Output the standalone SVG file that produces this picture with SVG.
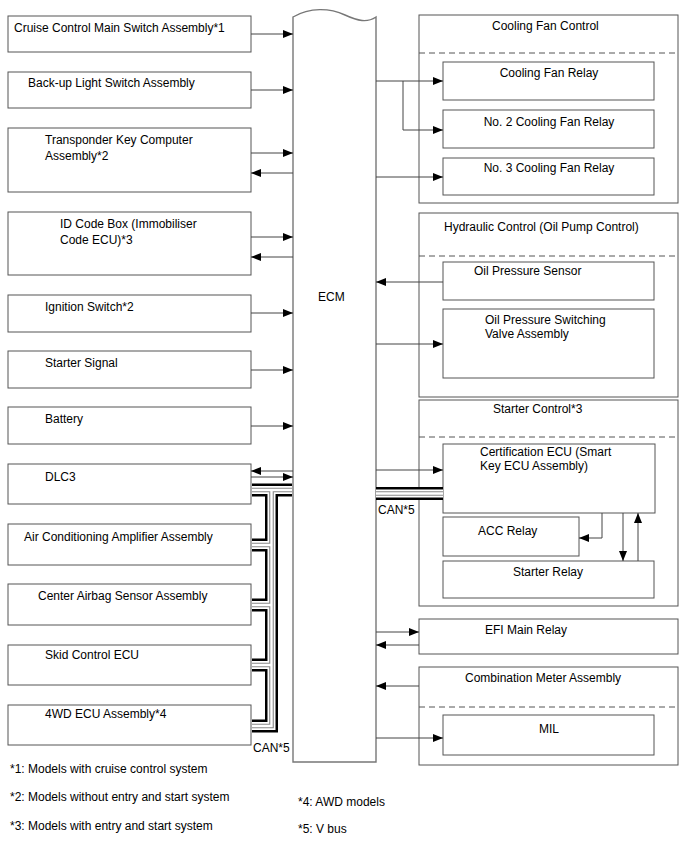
<svg xmlns="http://www.w3.org/2000/svg" xmlns:xlink="http://www.w3.org/1999/xlink" width="688" height="852" viewBox="0 0 688 852">
<style>
.box{fill:#fff;stroke:#555;stroke-width:1}
.t{font-family:"Liberation Sans",Arial,sans-serif;font-size:12px;fill:#000}
.m{text-anchor:middle}
.ln{fill:none;stroke:#444;stroke-width:1}
.dash{fill:none;stroke:#555;stroke-width:1;stroke-dasharray:6,4}
.ecm{fill:#fff;stroke:#777;stroke-width:1.4}
.b1{fill:none;stroke:#000;stroke-width:13;stroke-linejoin:miter}
.b2{fill:none;stroke:#fff;stroke-width:8;stroke-linejoin:miter}
.b3{fill:none;stroke:#888;stroke-width:4.6;stroke-linejoin:miter}
.b4{fill:none;stroke:#fff;stroke-width:2.4;stroke-linejoin:miter}
</style>
<defs>
<marker id="ar" markerUnits="userSpaceOnUse" markerWidth="10" markerHeight="8" refX="10" refY="4" orient="auto">
<path d="M0,0 L10,4 L0,8 z" fill="#000"/>
</marker>
<path id="busL" d="M252,490 H292 M271.5,490 V726 H252 M271.5,545 H252 M271.5,605 H252 M271.5,665 H252"/>
<path id="busR" d="M376,493.5 H443"/>
</defs>
<rect width="688" height="852" fill="#fff"/>

<g id="ecm">
<path class="ecm" d="M293,17 C310,7 330,8 345,15 C358,21 367,23 376,17 V762 H293 Z"/>
<text class="t" x="318" y="301">ECM</text>
</g>

<g id="n1"><rect class="box" x="8" y="16" width="243" height="36"/><text class="t" x="14" y="32">Cruise Control Main Switch Assembly*1</text></g>
<g id="n2"><rect class="box" x="8" y="72" width="243" height="36"/><text class="t" x="28" y="87">Back-up Light Switch Assembly</text></g>
<g id="n3"><rect class="box" x="8" y="128" width="243" height="64"/><text class="t" x="45" y="144">Transponder Key Computer</text><text class="t" x="45" y="160">Assembly*2</text></g>
<g id="n4"><rect class="box" x="8" y="212" width="243" height="63"/><text class="t" x="60" y="228">ID Code Box (Immobiliser</text><text class="t" x="60" y="244">Code ECU)*3</text></g>
<g id="n5"><rect class="box" x="8" y="295" width="243" height="37"/><text class="t" x="45" y="311">Ignition Switch*2</text></g>
<g id="n6"><rect class="box" x="8" y="351" width="243" height="37"/><text class="t" x="45" y="367">Starter Signal</text></g>
<g id="n7"><rect class="box" x="8" y="407" width="243" height="37"/><text class="t" x="45" y="423">Battery</text></g>
<g id="n8"><rect class="box" x="8" y="464" width="243" height="40"/><text class="t" x="45" y="481">DLC3</text></g>
<g id="n9"><rect class="box" x="8" y="524" width="243" height="41"/><text class="t" x="24" y="541">Air Conditioning Amplifier Assembly</text></g>
<g id="n10"><rect class="box" x="8" y="584" width="243" height="41"/><text class="t" x="38" y="600">Center Airbag Sensor Assembly</text></g>
<g id="n11"><rect class="box" x="8" y="645" width="243" height="40"/><text class="t" x="45" y="659">Skid Control ECU</text></g>
<g id="n12"><rect class="box" x="8" y="705" width="243" height="40"/><text class="t" x="45" y="718">4WD ECU Assembly*4</text></g>

<g id="coolingFanControl">
<rect class="box" x="419" y="15" width="259" height="188"/>
<line class="dash" x1="419" y1="53" x2="678" y2="53"/>
<text class="t" x="492" y="30">Cooling Fan Control</text>
</g>
<g id="coolingFanRelay"><rect class="box" x="443" y="62" width="211" height="38"/><text class="t m" x="549" y="77">Cooling Fan Relay</text></g>
<g id="coolingFanRelay2"><rect class="box" x="443" y="110" width="211" height="38"/><text class="t m" x="549" y="126">No. 2 Cooling Fan Relay</text></g>
<g id="coolingFanRelay3"><rect class="box" x="443" y="158" width="211" height="37"/><text class="t m" x="549" y="172">No. 3 Cooling Fan Relay</text></g>

<g id="hydraulicControl">
<rect class="box" x="419" y="213" width="259" height="184"/>
<line class="dash" x1="419" y1="256" x2="678" y2="256"/>
<text class="t" x="444" y="231">Hydraulic Control (Oil Pump Control)</text>
</g>
<g id="oilPressureSensor"><rect class="box" x="443" y="262" width="211" height="38"/><text class="t" x="474" y="275">Oil Pressure Sensor</text></g>
<g id="oilPressureValve"><rect class="box" x="443" y="309" width="211" height="69"/><text class="t" x="485" y="324">Oil Pressure Switching</text><text class="t" x="485" y="338">Valve Assembly</text></g>

<g id="starterControl">
<rect class="box" x="419" y="400" width="259" height="206"/>
<line class="dash" x1="419" y1="437" x2="678" y2="437"/>
<text class="t" x="493" y="413">Starter Control*3</text>
</g>
<g id="certificationEcu"><rect class="box" x="443" y="444" width="212" height="69"/><text class="t" x="480" y="456">Certification ECU (Smart</text><text class="t" x="480" y="470">Key ECU Assembly)</text></g>
<g id="accRelay"><rect class="box" x="443" y="517" width="136" height="39"/><text class="t" x="478" y="535">ACC Relay</text></g>
<g id="starterRelay"><rect class="box" x="443" y="561" width="211" height="37"/><text class="t m" x="548" y="576">Starter Relay</text></g>

<g id="efiMainRelay"><rect class="box" x="419" y="619" width="259" height="35"/><text class="t" x="485" y="634">EFI Main Relay</text></g>

<g id="combinationMeter">
<rect class="box" x="419" y="667" width="259" height="98"/>
<line class="dash" x1="419" y1="707" x2="678" y2="707"/>
<text class="t" x="465" y="682">Combination Meter Assembly</text>
</g>
<g id="mil"><rect class="box" x="443" y="715" width="211" height="40"/><text class="t m" x="549" y="733">MIL</text></g>

<g id="connectors">
<path class="ln" marker-end="url(#ar)" d="M251,34 H293"/>
<path class="ln" marker-end="url(#ar)" d="M251,90 H293"/>
<path class="ln" marker-end="url(#ar)" d="M251,153 H293"/>
<path class="ln" marker-end="url(#ar)" d="M293,173 H251"/>
<path class="ln" marker-end="url(#ar)" d="M251,237 H293"/>
<path class="ln" marker-end="url(#ar)" d="M293,257 H251"/>
<path class="ln" marker-end="url(#ar)" d="M251,313 H293"/>
<path class="ln" marker-end="url(#ar)" d="M251,370 H293"/>
<path class="ln" marker-end="url(#ar)" d="M251,426 H293"/>
<path class="ln" marker-end="url(#ar)" d="M293,471 H251"/>
<path class="ln" marker-end="url(#ar)" d="M251,477 H293"/>

<path class="ln" marker-end="url(#ar)" d="M376,81 H443"/>
<path class="ln" marker-end="url(#ar)" d="M403,81 V130 H443"/>
<path class="ln" marker-end="url(#ar)" d="M376,177 H443"/>
<path class="ln" marker-end="url(#ar)" d="M443,282 H376"/>
<path class="ln" marker-end="url(#ar)" d="M376,344 H443"/>
<path class="ln" marker-end="url(#ar)" d="M376,470 H443"/>
<path class="ln" marker-end="url(#ar)" d="M602,513 V538 H579"/>
<path class="ln" marker-end="url(#ar)" d="M623,513 V561"/>
<path class="ln" marker-end="url(#ar)" d="M638,561 V513"/>
<path class="ln" marker-end="url(#ar)" d="M376,632 H419"/>
<path class="ln" marker-end="url(#ar)" d="M419,645 H376"/>
<path class="ln" marker-end="url(#ar)" d="M419,686 H376"/>
<path class="ln" marker-end="url(#ar)" d="M376,738 H443"/>

<use xlink:href="#busL" class="b1"/>
<use xlink:href="#busL" class="b2"/>
<use xlink:href="#busL" class="b3"/>
<use xlink:href="#busL" class="b4"/>
<use xlink:href="#busR" class="b1"/>
<use xlink:href="#busR" class="b2"/>
<use xlink:href="#busR" class="b3"/>
<use xlink:href="#busR" class="b4"/>
<text class="t" x="378" y="514">CAN*5</text>
<text class="t" x="253" y="752">CAN*5</text>
</g>

<g id="notes">
<text class="t" x="10" y="773">*1: Models with cruise control system</text>
<text class="t" x="10" y="801">*2: Models without entry and start system</text>
<text class="t" x="10" y="830">*3: Models with entry and start system</text>
<text class="t" x="298" y="806">*4: AWD models</text>
<text class="t" x="298" y="833">*5: V bus</text>
</g>
</svg>
